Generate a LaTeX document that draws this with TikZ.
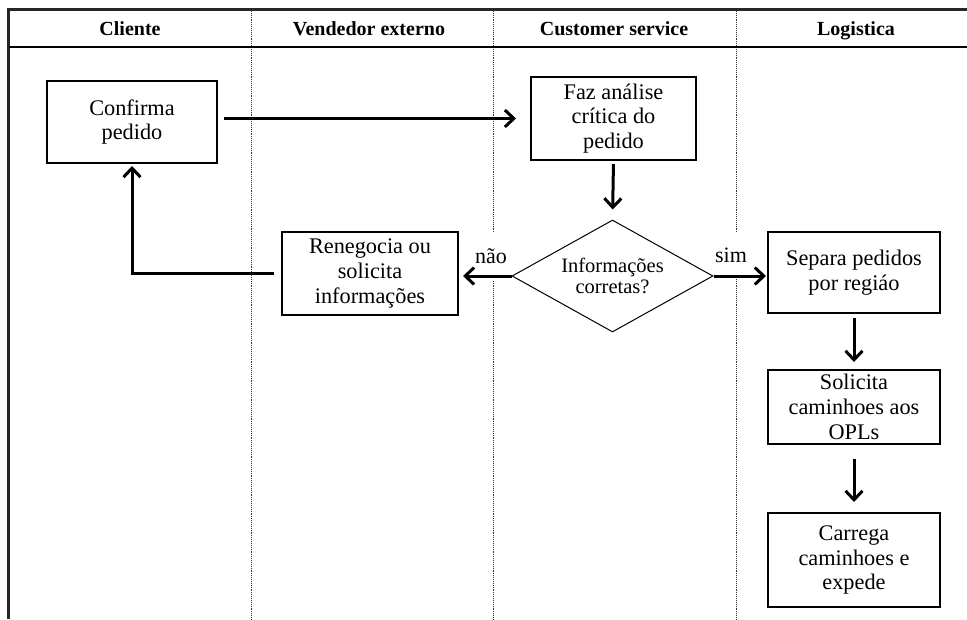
\documentclass[tikz,border=0pt]{standalone}
\usepackage{fontspec}
\setmainfont{Liberation Serif}
\usetikzlibrary{arrows.meta,shapes.geometric}
\begin{document}
\begin{tikzpicture}[x=1pt,y=-1pt,
  box/.style={draw,fill=white,line width=2pt,align=center,inner sep=0pt,font=\fontsize{22.3}{24.8}\selectfont},
  dia/.style={draw,diamond,fill=white,line width=1pt,align=center,inner sep=-30pt,
    minimum width=201pt,minimum height=112pt,font=\fontsize{20.5}{21.5}\selectfont},
  arr/.style={line width=3pt,-{Straight Barb[length=9pt,width=17pt]}},
  lane/.style={densely dotted,line width=0.9pt,black!80},
  head/.style={font=\fontsize{20}{24}\selectfont\bfseries,anchor=base},
  lbl/.style={font=\fontsize{22}{24}\selectfont,inner sep=0pt,fill=white,minimum height=47pt}]
\useasboundingbox (0,0) rectangle (967,619);
% frame
\draw[lane] (251,9) -- (251,619);
\draw[lane] (493,9) -- (493,619);
\draw[lane] (736,9) -- (736,619);
\draw[line width=3pt,line cap=rect,black!85] (8.5,9.5) -- (967,9.5);
\draw[line width=3pt,black!85] (8.5,9.5) -- (8.5,619);
\draw[line width=2.2pt] (8.5,47) -- (967,47);
% headers
\node[head] (h1) at (130,35.5) {Cliente};
\node[head] (h2) at (369,35.5) {Vendedor externo};
\node[head] (h3) at (614,35.5) {Customer service};
\node[head] (h4) at (856,35.5) {Logistica};
% labels (white boxes cover the lane lines)
\node[lbl,minimum width=36pt] (nao) at (491,256.5) {não};
\node[lbl,minimum width=34pt] (sim) at (731,255.5) {sim};
% nodes
\node[box,minimum width=170pt,minimum height=82pt] (conf) at (132,122) {Confirma\\pedido};
\node[box,minimum width=165pt,minimum height=83pt] (faz) at (613.5,118.5) {Faz análise\\crítica do\\pedido};
\node[dia] (d) at (612.5,276) {Informações\\corretas?};
\node[box,minimum width=176pt,minimum height=83pt] (ren) at (370,273.5) {Renegocia ou\\solicita\\informações};
\node[box,minimum width=172pt,minimum height=81pt] (sep) at (854,272.5) {Separa pedidos\\por regiáo};
\node[box,minimum width=172pt,minimum height=74pt] (sol) at (854,407) {Solicita\\caminhoes aos\\OPLs};
\node[box,minimum width=172pt,minimum height=94pt] (car) at (854,560) {Carrega\\caminhoes e\\expede};
% connectors
\draw[arr,shorten <=6pt,shorten >=14pt] (conf.east |- faz.west) -- (faz.west);
\draw[arr,shorten <=3pt,shorten >=10pt] (faz.south) -- (d.north);
\draw[arr,shorten >=4pt] (d.west) -- (d.west -| ren.east);
\draw[arr,shorten <=7pt,shorten >=2pt] (ren.west) -- (conf.south |- ren.west) -- (conf.south);
\draw[arr,shorten >=1pt] (d.east) -- (d.east -| sep.west);
\draw[arr,shorten <=4pt,shorten >=7pt] (sep.south) -- (sol.north);
\draw[arr,shorten <=14pt,shorten >=10pt] (sol.south) -- (car.north);
\end{tikzpicture}
\end{document}
